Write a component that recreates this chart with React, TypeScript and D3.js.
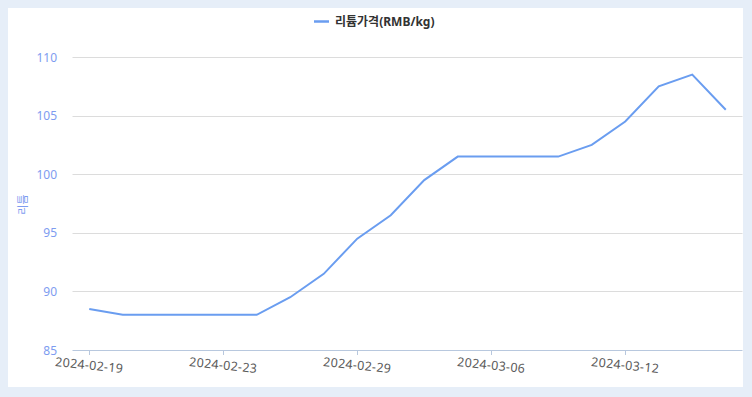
import React, { useEffect, useRef } from "react";
import * as d3 from "d3";

const dates = [
  "2024-02-19", "2024-02-20", "2024-02-21", "2024-02-22", "2024-02-23",
  "2024-02-26", "2024-02-27", "2024-02-28", "2024-02-29", "2024-03-01",
  "2024-03-04", "2024-03-05", "2024-03-06", "2024-03-07", "2024-03-08",
  "2024-03-11", "2024-03-12", "2024-03-13", "2024-03-14", "2024-03-15",
];
const prices = [
  88.5, 88, 88, 88, 88, 88, 89.5, 91.5, 94.5, 96.5,
  99.5, 101.5, 101.5, 101.5, 101.5, 102.5, 104.5, 107.5, 108.5, 105.5,
];
const yTicks = [85, 90, 95, 100, 105, 110];
const seriesName = "리튬가격(RMB/kg)";
const yName = "리튬";

const W = 752, H = 397;
const FONT = "'Noto Sans', 'Noto Sans CJK KR', sans-serif";
const LINE = "#6a9df0";

export default function App() {
  const ref = useRef<SVGSVGElement>(null);

  useEffect(() => {
    const svg = d3.select(ref.current);
    svg.selectAll("*").remove();

    svg.append("rect").attr("width", W).attr("height", H).attr("fill", "#e6eef8");
    svg.append("rect").attr("x", 8).attr("y", 8).attr("width", 735).attr("height", 379).attr("fill", "#fff");

    const left = 72.5, right = 742.5, top = 57, bottom = 350;

    const x = d3.scaleBand().domain(dates).range([left, right]);
    const cx = (d: string) => (x(d) as number) + x.bandwidth() / 2;
    const y = d3.scaleLinear().domain([85, 110]).range([bottom, top]);

    // grid
    svg.append("g").selectAll("line")
      .data(yTicks.filter(t => t !== 85))
      .join("line")
      .attr("x1", left).attr("x2", right)
      .attr("y1", d => Math.round(y(d)) + 0.5).attr("y2", d => Math.round(y(d)) + 0.5)
      .attr("stroke", "#dcdcdc");

    // y labels
    svg.append("g").selectAll("text")
      .data(yTicks)
      .join("text")
      .attr("x", 57).attr("y", d => y(d))
      .attr("text-anchor", "end").attr("dominant-baseline", "central")
      .attr("font-family", FONT).attr("font-size", 12)
      .attr("fill", "#7d9cf0")
      .text(d => d);

    svg.append("text")
      .attr("transform", `translate(22,${(top + bottom) / 2 + 1}) rotate(-90)`)
      .attr("text-anchor", "middle").attr("dominant-baseline", "central")
      .attr("font-family", FONT).attr("font-size", 11)
      .attr("fill", "#7d9cf0")
      .text(yName);

    // x axis
    svg.append("line")
      .attr("x1", left).attr("x2", right)
      .attr("y1", bottom + 0.5).attr("y2", bottom + 0.5)
      .attr("stroke", "#b8c8de");

    const shown = dates.filter((_, i) => i % 4 === 0);
    svg.append("g").selectAll("line")
      .data(shown)
      .join("line")
      .attr("x1", d => Math.round(cx(d)) + 0.5).attr("x2", d => Math.round(cx(d)) + 0.5)
      .attr("y1", bottom).attr("y2", bottom + 5)
      .attr("stroke", "#b8c8de");

    svg.append("g").selectAll("text")
      .data(shown)
      .join("text")
      .attr("transform", d => `translate(${cx(d)},${bottom + 15}) rotate(6)`)
      .attr("text-anchor", "middle").attr("dominant-baseline", "central")
      .attr("font-family", FONT).attr("font-size", 12.5)
      .attr("letter-spacing", 0.3)
      .attr("fill", "#5a5a5a")
      .text(d => d);

    // line
    const line = d3.line<number>()
      .x((_, i) => cx(dates[i]))
      .y(d => y(d));
    svg.append("path")
      .datum(prices)
      .attr("d", line)
      .attr("fill", "none")
      .attr("stroke", LINE)
      .attr("stroke-width", 2);

    // legend
    svg.append("line")
      .attr("x1", 314).attr("x2", 329).attr("y1", 21.5).attr("y2", 21.5)
      .attr("stroke", LINE).attr("stroke-width", 2.5);
    svg.append("text")
      .attr("x", 335).attr("y", 21.5)
      .attr("dominant-baseline", "central")
      .attr("font-family", FONT).attr("font-size", 12).attr("font-weight", "bold")
      .attr("fill", "#333")
      .text(seriesName);
  }, []);

  return (
    <svg ref={ref} width={W} height={H}
      style={{ position: "absolute", left: 0, top: 0, display: "block" }} />
  );
}
